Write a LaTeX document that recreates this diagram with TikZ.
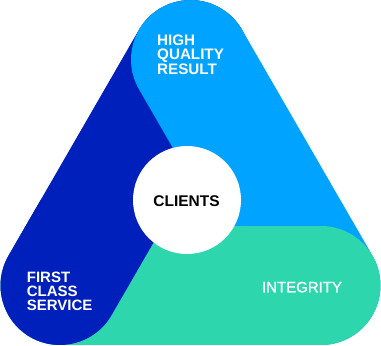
\documentclass[tikz,border=0pt]{standalone}
\usepackage{fontspec}
\setmainfont{Liberation Sans}
\newfontfamily\medfont[FakeBold=0.9]{Liberation Sans}
\definecolor{lblue}{RGB}{0,163,255}
\definecolor{dblue}{RGB}{0,32,187}
\definecolor{mint}{RGB}{46,214,174}
\begin{document}
\begin{tikzpicture}[x=1pt,y=-1pt,
  band/.style={line width=119pt,line cap=round},
  lbl/.style={anchor=base west,inner sep=0pt,text depth=0pt,text height=11pt,text=white,font=\fontsize{15}{14}\selectfont\bfseries},
  lblc/.style={anchor=base,inner sep=0pt,font=\fontsize{15}{14}\selectfont}]
\useasboundingbox (0,0) rectangle (381,346);
\coordinate (A) at (190.5,59.5);
\coordinate (B) at (60,285.5);
\coordinate (C) at (321,285.5);
\draw[band,dblue] (A) -- (B);
\draw[band,lblue] (A) -- (C);
\draw[band,mint] (B) -- (C);
\begin{scope}
  \clip (-10,200) rectangle (180,360);
  \draw[band,dblue] (A) -- (B);
\end{scope}
\node[circle,fill=white,minimum size=108pt,inner sep=0pt] (cl) at (187,200) {};
\node[anchor=base,inner sep=0pt,font=\fontsize{15.5}{14}\selectfont\bfseries] (clt) at (186.5,206) {CLIENTS};
\node[lbl,font=\fontsize{15.2}{14}\selectfont\bfseries] (h1) at (157,45.5) {HIGH};
\node[lbl,font=\fontsize{15.2}{14}\selectfont\bfseries] (h2) at (157,59.5) {QUALITY};
\node[lbl,font=\fontsize{15.2}{14}\selectfont\bfseries] (h3) at (157,74) {RESULT};
\node[lbl] (f1) at (26.7,282.7) {FIRST};
\node[lbl] (f2) at (26.7,296.7) {CLASS};
\node[lbl] (f3) at (26.7,310.7) {SERVICE};
\node[lblc,text=white,font=\fontsize{15}{14}\selectfont\medfont] (ig) at (302,292.3) {INTEGRITY};
\end{tikzpicture}
\end{document}
